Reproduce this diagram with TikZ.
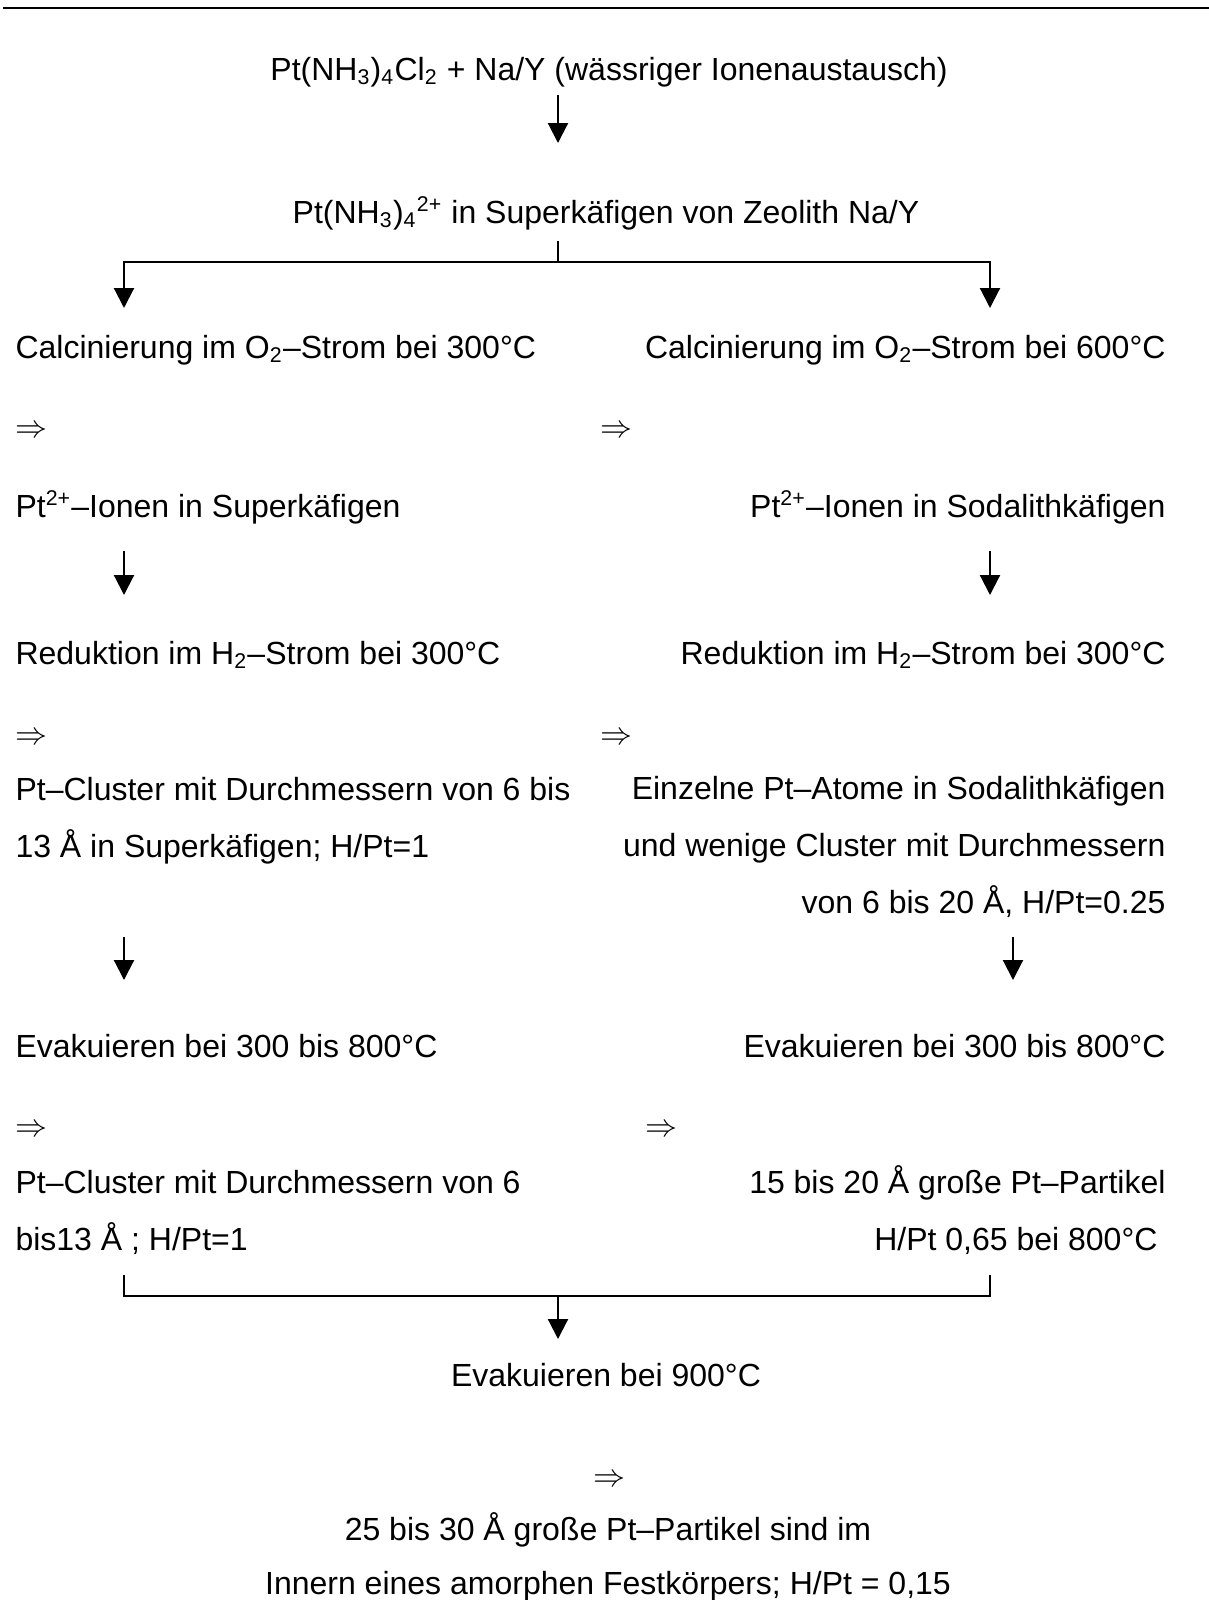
\documentclass[tikz,border=0pt]{standalone}
\usepackage{fontspec}
\setmainfont{Liberation Sans}
\usepackage{tikz}
\usetikzlibrary{arrows.meta,positioning}

\begin{document}
\begin{tikzpicture}[
  x=0.375pt, y=-0.375pt,
  stage/.style={inner sep=0pt, font=\fontsize{12}{21.3}\selectfont},
  leftstage/.style={stage, anchor=base west, align=left},
  rightstage/.style={stage, anchor=base east, align=right},
  midstage/.style={stage, anchor=base, align=center},
  link/.style={line width=0.8pt},
  flow/.style={link, -{Triangle[length=7.5pt, width=7.5pt]}}
]
\useasboundingbox (0,0) rectangle (1209,1600);
\draw[line width=1.1pt] (3,8) -- (1209,8);

% Ausgangsstoffe
\node[midstage] (start) at (609,80) {Pt(NH\textsubscript{3})\textsubscript{4}Cl\textsubscript{2} + Na/Y (wässriger Ionenaustausch)};
\coordinate (tip0) at (558,143);
\draw[flow] (start.base -| tip0) ++(0,15) -- (tip0);

\node[midstage] (complex) at (606,223) {Pt(NH\textsubscript{3})\textsubscript{4}\textsuperscript{2+} in Superkäfigen von Zeolith Na/Y};

% Verzweigung
\coordinate (fork) at (558,262);
\coordinate (tipL1) at (124,308);
\coordinate (tipR1) at (990,308);
\draw[link] (complex.base -| fork) ++(0,18) -- (fork);
\draw[flow] (fork) -| (tipL1);
\draw[flow] (fork) -| (tipR1);

% Calcinierung
\node[leftstage] (calcL) at (15,358) {Calcinierung im O\textsubscript{2}–Strom bei 300°C};
\node[rightstage] (calcR) at (1166,358) {Calcinierung im O\textsubscript{2}–Strom bei 600°C};
\node[leftstage] (thenL1) at (15,437) {$\Rightarrow$};
\node[leftstage] (thenR1) at (600,437) {$\Rightarrow$};
\node[leftstage] (ionL) at (15,517) {Pt\textsuperscript{2+}–Ionen in Superkäfigen};
\node[rightstage] (ionR) at (1166,517) {Pt\textsuperscript{2+}–Ionen in Sodalithkäfigen};
\coordinate (tipL2) at (124,595);
\coordinate (tipR2) at (990,595);
\draw[flow] (ionL.base -| tipL2) ++(0,34) -- (tipL2);
\draw[flow] (ionR.base -| tipR2) ++(0,34) -- (tipR2);

% Reduktion (base = letzte Zeile)
\node[leftstage] (redL) at (15,664) {Reduktion im H\textsubscript{2}–Strom bei 300°C};
\node[rightstage] (redR) at (1166,664) {Reduktion im H\textsubscript{2}–Strom bei 300°C};
\node[leftstage] (thenL2) at (15,744) {$\Rightarrow$};
\node[leftstage] (thenR2) at (600,744) {$\Rightarrow$};
\node[leftstage] (clusterL) at (15,857) {Pt–Cluster mit Durchmessern von 6 bis\\13 Å in Superkäfigen; H/Pt=1};
\node[rightstage] (clusterR) at (1166,913) {Einzelne Pt–Atome in Sodalithkäfigen\\und wenige Cluster mit Durchmessern\\von 6 bis 20 Å, H/Pt=0.25};
\coordinate (tipL3) at (124,980);
\coordinate (tipR3) at (1013,980);
\draw[flow] (clusterL.base -| tipL3) ++(0,80) -- (tipL3);
\draw[flow] (clusterR.base -| tipR3) ++(0,24) -- (tipR3);

% Evakuieren
\node[leftstage] (evakL) at (15,1057) {Evakuieren bei 300 bis 800°C};
\node[rightstage] (evakR) at (1166,1057) {Evakuieren bei 300 bis 800°C};
\node[leftstage] (thenL3) at (15,1136) {$\Rightarrow$};
\node[leftstage] (thenR3) at (645,1136) {$\Rightarrow$};
\node[leftstage] (partL) at (15,1250) {Pt–Cluster mit Durchmessern von 6\\bis13 Å ; H/Pt=1};
\node[rightstage] (partR) at (1166,1250) {15 bis 20 Å große Pt–Partikel\\H/Pt 0,65 bei 800°C\hspace*{3pt}};

% Zusammenfuehrung
\coordinate (joinL) at (124,1275);
\coordinate (joinR) at (990,1275);
\coordinate (merge) at (558,1296);
\coordinate (tipM) at (558,1339);
\draw[link] (joinL) |- (merge) -| (joinR);
\draw[flow] (merge) -- (tipM);

\node[midstage] (evak900) at (606,1386) {Evakuieren bei 900°C};
\node[midstage] (thenM) at (609,1486) {$\Rightarrow$};
\node[midstage, font=\fontsize{12}{19.9}\selectfont] (final) at (608,1594) {25 bis 30 Å große Pt–Partikel sind im\\Innern eines amorphen Festkörpers; H/Pt = 0,15};
\end{tikzpicture}
\end{document}
